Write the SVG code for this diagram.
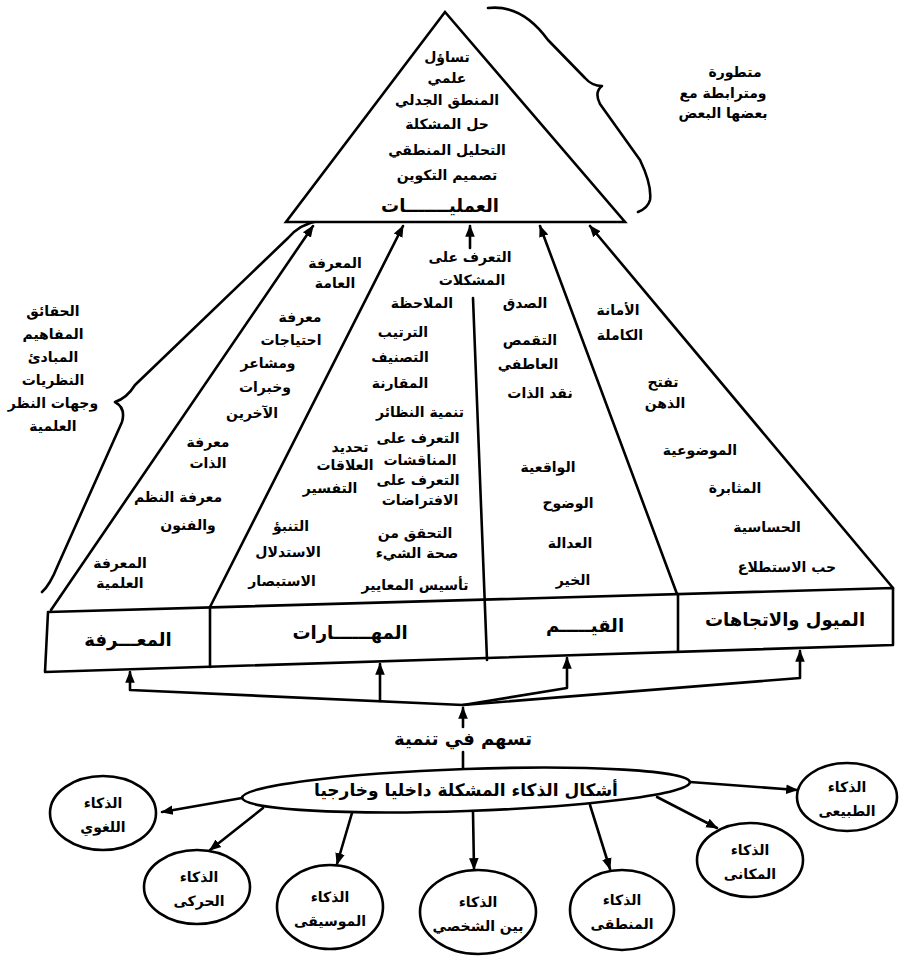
<svg xmlns="http://www.w3.org/2000/svg" width="899" height="958" viewBox="0 0 899 958">
<style>
.t{font-family:"DejaVu Sans","Noto Sans",sans-serif;font-weight:bold;font-size:14px;text-anchor:middle;fill:#000}
.lb{font-size:18px}
.ln{stroke:#000;stroke-width:2.6;fill:none;stroke-linecap:round;stroke-linejoin:round}
.sh{stroke:#000;stroke-width:2.6;fill:#fff}
</style>
<defs>
<marker id="ah" viewBox="0 0 10 10" refX="9" refY="5" markerWidth="12" markerHeight="12" markerUnits="userSpaceOnUse" orient="auto"><path d="M0,1 L10,5 L0,9 z" fill="#000"/></marker>
</defs>
<rect width="899" height="958" fill="#fff"/>

<g id="connectors">
<path class="ln" d="M51,610 L313,226" marker-end="url(#ah)"/>
<path class="ln" d="M210,607 L403,226" marker-end="url(#ah)"/>
<path class="ln" d="M470,248 L470,226" marker-end="url(#ah)"/>
<path class="ln" d="M677,594 L540,226" marker-end="url(#ah)"/>
<path class="ln" d="M893,588 L590,226" marker-end="url(#ah)"/>
<path class="ln" d="M473,298 L487,660"/>
<path class="ln" d="M463,727 L463,708" marker-end="url(#ah)"/>
<path class="ln" d="M463,705 L130,690 L130,672" marker-end="url(#ah)"/>
<path class="ln" d="M380,701 L380,664" marker-end="url(#ah)"/>
<path class="ln" d="M463,705 L567,688 L567,658" marker-end="url(#ah)"/>
<path class="ln" d="M463,705 L800,678 L800,651" marker-end="url(#ah)"/>
<path class="ln" d="M463,752 L463,770"/>
<path class="ln" d="M242,798 L162,812" marker-end="url(#ah)"/>
<path class="ln" d="M263,808 L210,850" marker-end="url(#ah)"/>
<path class="ln" d="M352,813 L337,864" marker-end="url(#ah)"/>
<path class="ln" d="M473,812 L474,869" marker-end="url(#ah)"/>
<path class="ln" d="M590,805 L610,869" marker-end="url(#ah)"/>
<path class="ln" d="M657,797 L717,828" marker-end="url(#ah)"/>
<path class="ln" d="M690,782 L797,790" marker-end="url(#ah)"/>
</g>

<g id="brace-right">
<path class="ln" d="M488,8 Q522,4 548,40 L585,78 Q592,86 602,86 Q594,92 600,104 L640,160 Q652,185 650,200 Q648,208 638,212"/>
<text class="t" x="735" y="77">متطورة</text>
<text class="t" x="723" y="98">ومترابطة مع</text>
<text class="t" x="723" y="118">بعضها البعض</text>
</g>

<g id="brace-left">
<path class="ln" d="M318,221 Q300,224 288,238 L135,385 Q127,398 115,402 Q126,408 122,422 L58,565 Q50,585 42,592"/>
<text class="t" x="53" y="316">الحقائق</text>
<text class="t" x="53" y="339">المفاهيم</text>
<text class="t" x="53" y="362">المبادئ</text>
<text class="t" x="53" y="385">النظريات</text>
<text class="t" x="53" y="408">وجهات النظر</text>
<text class="t" x="53" y="431">العلمية</text>
</g>

<g id="processes">
<polygon class="sh" points="445,12 286,222 625,222"/>
<text class="t" x="447" y="62">تساؤل</text>
<text class="t" x="447" y="83">علمي</text>
<text class="t" x="447" y="105">المنطق الجدلي</text>
<text class="t" x="447" y="129">حل المشكلة</text>
<text class="t" x="447" y="155">التحليل المنطقي</text>
<text class="t" x="447" y="180">تصميم التكوين</text>
<text class="t lb" x="440" y="212">العمليـــــــات</text>
</g>

<g id="base-box">
<polygon class="ln" points="48,612 893,588 893,645 45,672"/>
<path class="ln" d="M210,607 L210,667"/>
<path class="ln" d="M678,594 L678,651"/>
</g>

<g id="knowledge">
<text class="t" x="335" y="268">المعرفة</text>
<text class="t" x="335" y="288">العامة</text>
<text class="t" x="300" y="322">معرفة</text>
<text class="t" x="291" y="345">احتياجات</text>
<text class="t" x="268" y="368">ومشاعر</text>
<text class="t" x="265" y="392">وخبرات</text>
<text class="t" x="252" y="418">الآخرين</text>
<text class="t" x="208" y="447">معرفة</text>
<text class="t" x="208" y="468">الذات</text>
<text class="t" x="178" y="502">معرفة النظم</text>
<text class="t" x="188" y="530">والفنون</text>
<text class="t" x="120" y="568">المعرفة</text>
<text class="t" x="120" y="588">العلمية</text>
<text class="t lb" x="128" y="646">المعـــرفة</text>
</g>

<g id="skills">
<text class="t" x="470" y="262">التعرف على</text>
<text class="t" x="472" y="285">المشكلات</text>
<text class="t" x="422" y="308">الملاحظة</text>
<text class="t" x="403" y="337">الترتيب</text>
<text class="t" x="400" y="362">التصنيف</text>
<text class="t" x="400" y="388">المقارنة</text>
<text class="t" x="420" y="417">تنمية النظائر</text>
<text class="t" x="418" y="443">التعرف على</text>
<text class="t" x="420" y="465">المناقشات</text>
<text class="t" x="418" y="485">التعرف على</text>
<text class="t" x="420" y="505">الافتراضات</text>
<text class="t" x="415" y="538">التحقق من</text>
<text class="t" x="417" y="558">صحة الشيء</text>
<text class="t" x="415" y="590">تأسيس المعايير</text>
<text class="t" x="350" y="452">تحديد</text>
<text class="t" x="345" y="470">العلاقات</text>
<text class="t" x="330" y="493">التفسير</text>
<text class="t" x="291" y="531">التنبؤ</text>
<text class="t" x="288" y="557">الاستدلال</text>
<text class="t" x="282" y="586">الاستبصار</text>
<text class="t lb" x="350" y="639">المهــــــارات</text>
</g>

<g id="values">
<text class="t" x="525" y="308">الصدق</text>
<text class="t" x="530" y="345">التقمص</text>
<text class="t" x="528" y="369">العاطفي</text>
<text class="t" x="540" y="398">نقد الذات</text>
<text class="t" x="548" y="472">الواقعية</text>
<text class="t" x="568" y="508">الوضوح</text>
<text class="t" x="570" y="548">العدالة</text>
<text class="t" x="573" y="585">الخير</text>
<text class="t lb" x="585" y="632">القيـــــم</text>
</g>

<g id="attitudes">
<text class="t" x="618" y="315">الأمانة</text>
<text class="t" x="620" y="340">الكاملة</text>
<text class="t" x="663" y="387">تفتح</text>
<text class="t" x="665" y="408">الذهن</text>
<text class="t" x="700" y="455">الموضوعية</text>
<text class="t" x="735" y="493">المثابرة</text>
<text class="t" x="767" y="532">الحساسية</text>
<text class="t" x="787" y="572">حب الاستطلاع</text>
<text class="t lb" x="785" y="626">الميول والاتجاهات</text>
</g>

<g id="contributes">
<text class="t lb" x="463" y="745">تسهم في تنمية</text>
</g>

<g id="forms">
<ellipse class="sh" cx="466" cy="790" rx="224" ry="21" transform="rotate(-2 466 790)"/>
<text class="t" x="466" y="796" style="font-size:17px">أشكال الذكاء المشكلة داخليا وخارجيا</text>
</g>

<g id="linguistic"><ellipse class="sh" cx="103" cy="813" rx="53" ry="37"/><text class="t" x="103" y="808">الذكاء</text><text class="t" x="103" y="832">اللغوي</text></g>
<g id="kinesthetic"><ellipse class="sh" cx="197" cy="887" rx="53" ry="37"/><text class="t" x="199" y="882">الذكاء</text><text class="t" x="199" y="906">الحركى</text></g>
<g id="musical"><ellipse class="sh" cx="330" cy="907" rx="53" ry="42"/><text class="t" x="330" y="902">الذكاء</text><text class="t" x="330" y="926">الموسيقى</text></g>
<g id="interpersonal"><ellipse class="sh" cx="478" cy="912" rx="58" ry="42"/><text class="t" x="478" y="907">الذكاء</text><text class="t" x="478" y="931">بين الشخصي</text></g>
<g id="logical"><ellipse class="sh" cx="622" cy="910" rx="52" ry="40"/><text class="t" x="622" y="905">الذكاء</text><text class="t" x="622" y="929">المنطقى</text></g>
<g id="spatial"><ellipse class="sh" cx="750" cy="860" rx="53" ry="37"/><text class="t" x="750" y="855">الذكاء</text><text class="t" x="750" y="879">المكانى</text></g>
<g id="naturalist"><ellipse class="sh" cx="847" cy="797" rx="50" ry="34"/><text class="t" x="847" y="792">الذكاء</text><text class="t" x="847" y="816">الطبيعى</text></g>
</svg>
